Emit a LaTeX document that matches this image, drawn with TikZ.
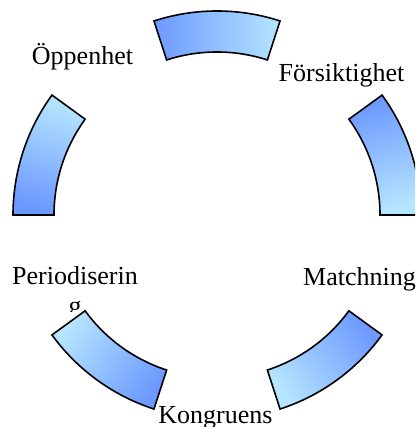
\documentclass[tikz,border=0pt]{standalone}
\usepackage{fontspec}
\setmainfont{Liberation Serif}
\definecolor{segdark}{RGB}{108,153,255}
\definecolor{seglight}{RGB}{182,229,255}
\tikzset{
  lbl/.style={anchor=base, inner sep=0pt, font=\fontsize{26}{30}\selectfont},
  seg/.style={draw=black, line width=1.6pt, line join=miter, top color=segdark, bottom color=seglight}
}
\begin{document}
\begin{tikzpicture}[x=1pt,y=1pt]
\useasboundingbox (0,0) rectangle (415,427);
\clip (0,0) rectangle (415,427);
\coordinate (c) at (217,212);
% labels
\node[lbl] (oppenhet) at (82.5,362) {Öppenhet};
\node[lbl] (forsiktighet) at (341.5,345) {Försiktighet};
\node[lbl] (matchning) at (359.5,141) {Matchning};
\node[lbl] (kongruens) at (215.5,4) {Kongruens};
\node[lbl] (periodiserin) at (75,142) {Periodiserin};
\begin{scope}
  \clip (0,115) rectangle (150,140);
  \node[lbl] (periodg) at (75,112) {g};
\end{scope}
% segments
\foreach \a in {0,72,144,216,288}{
  \pgfmathsetmacro{\b}{\a+36}
  \pgfmathsetmacro{\s}{\a+18}
  \path[seg, shading angle=\s] ([shift={(\a:204)}]c) arc[start angle=\a, end angle=\b, radius=204]
    -- ([shift={(\b:163)}]c) arc[start angle=\b, end angle=\a, radius=163] -- cycle;
}
\end{tikzpicture}
\end{document}
